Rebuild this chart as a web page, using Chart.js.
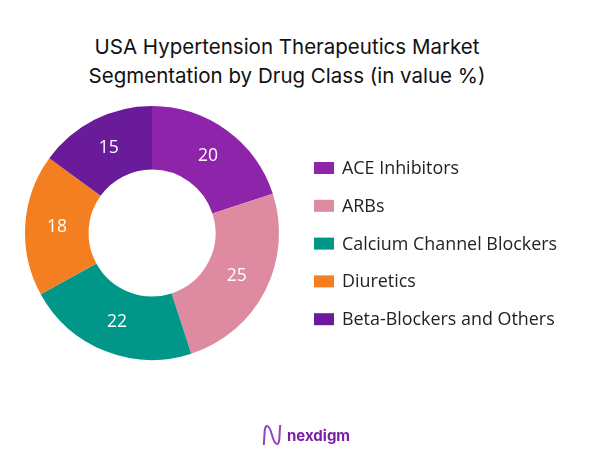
<!DOCTYPE html>
<html><head><meta charset="utf-8">
<script src="https://cdn.jsdelivr.net/npm/chart.js@4"></script>
<style>
html,body{margin:0;padding:0;background:#fff;width:602px;height:451px;overflow:hidden;}
#wrap{position:relative;width:602px;height:451px;}
#title{position:absolute;left:0;top:32px;width:574px;text-align:center;font-family:Inter,"Open Sans",sans-serif;font-size:20.5px;line-height:29px;color:#111;}
#c{position:absolute;left:0;top:0;}
#logo{position:absolute;left:262px;top:423px;font-family:Inter,sans-serif;font-weight:700;font-size:15px;color:#7B1FA2;display:flex;align-items:center;gap:5px;}
</style></head>
<body><div id="wrap">
<div id="title">USA Hypertension Therapeutics Market<br>Segmentation by Drug Class (in value %)</div>
<canvas id="c" width="602" height="451"></canvas>
<div id="logo"><svg width="20" height="24" viewBox="0 0 22 26"><path d="M2 24 L3 8 C4 0 8 2 11 13 C14 24 18 26 19 18 L20 2" fill="none" stroke="#8E44C8" stroke-width="2.2"/></svg><span>nexdigm</span></div>
</div>
<script>
const categories = ["ACE Inhibitors","ARBs","Calcium Channel Blockers","Diuretics","Beta-Blockers and Others"];
const values = [20,25,22,18,15];
const colors = ["#8E24AA","#DE8AA0","#009688","#F47F20","#6A1B9A"];

const labelPlugin = {
  id:'labels',
  afterDatasetsDraw(chart){
    const ctx = chart.ctx;
    const meta = chart.getDatasetMeta(0);
    ctx.save();
    ctx.fillStyle = '#fff';
    ctx.font = '17.5px "Open Sans", sans-serif';
    ctx.textAlign='center';ctx.textBaseline='middle';
    meta.data.forEach((arc,i)=>{
      const p = arc.getProps(['x','y','startAngle','endAngle','innerRadius','outerRadius']);
      const a = (p.startAngle+p.endAngle)/2;
      const r = (p.innerRadius+p.outerRadius)/2;
      ctx.fillText(String(chart.data.datasets[0].data[i]), p.x+Math.cos(a)*r, p.y+Math.sin(a)*r);
    });
    ctx.restore();
  }
};
const legendPlugin = {
  id:'customLegend',
  afterDraw(chart){
    const ctx = chart.ctx;
    ctx.save();
    ctx.font = '17.9px "Open Sans", sans-serif';
    ctx.textBaseline='middle';
    chart.data.labels.forEach((lab,i)=>{
      const y = 168 + i*37.8;
      ctx.fillStyle = chart.data.datasets[0].backgroundColor[i];
      ctx.fillRect(314, y-6, 20, 12);
      ctx.fillStyle = '#222';
      ctx.fillText(lab, 342, y+1);
    });
    ctx.restore();
  }
};
new Chart(document.getElementById('c'),{
  type:'doughnut',
  data:{labels:categories,datasets:[{data:values,backgroundColor:colors,borderWidth:0}]},
  options:{
    responsive:false,animation:false,cutout:'50%',
    layout:{padding:{left:25,right:323,top:106,bottom:91}},
    plugins:{legend:{display:false},tooltip:{enabled:false}}
  },
  plugins:[labelPlugin,legendPlugin]
});
</script>
</body></html>
